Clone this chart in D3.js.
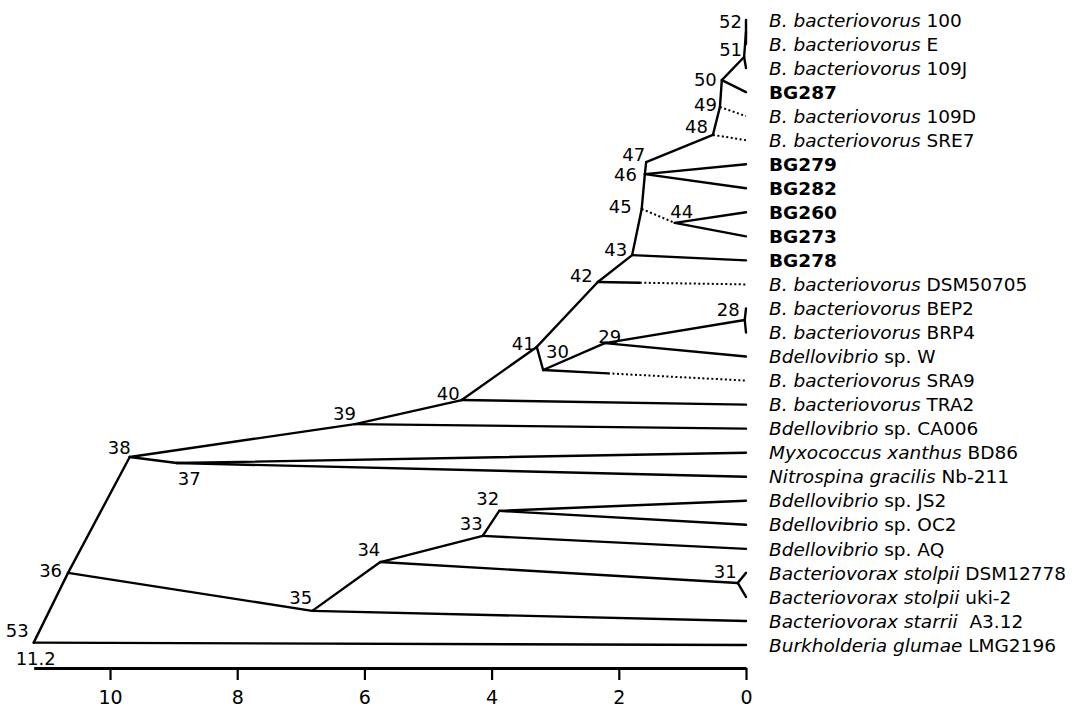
<!DOCTYPE html>
<html>
<head>
<meta charset="utf-8">
<script src="https://cdn.jsdelivr.net/npm/d3@7"></script>
<style>
  html, body { margin: 0; padding: 0; background: #fff; }
  svg { display: block; }
</style>
</head>
<body>
<svg id="chart" width="1075" height="707"></svg>
<script>
// ---------- DATA ----------
// Leaves (top to bottom): italic part, roman part (bold if no italic part)
const leafItalic = [
  "B. bacteriovorus", "B. bacteriovorus", "B. bacteriovorus", "", "B. bacteriovorus",
  "B. bacteriovorus", "", "", "", "", "", "B. bacteriovorus", "B. bacteriovorus",
  "B. bacteriovorus", "Bdellovibrio", "B. bacteriovorus", "B. bacteriovorus",
  "Bdellovibrio", "Myxococcus xanthus", "Nitrospina gracilis", "Bdellovibrio",
  "Bdellovibrio", "Bdellovibrio", "Bacteriovorax stolpii", "Bacteriovorax stolpii",
  "Bacteriovorax starrii", "Burkholderia glumae"
];
const leafRoman = [
  " 100", " E", " 109J", "BG287", " 109D", " SRE7", "BG279", "BG282", "BG260",
  "BG273", "BG278", " DSM50705", " BEP2", " BRP4", " sp. W", " SRA9", " TRA2",
  " sp. CA006", " BD86", " Nb-211", " sp. JS2", " sp. OC2", " sp. AQ",
  " DSM12778", " uki-2", "\u00a0 A3.12", " LMG2196"
];

// Internal nodes: id, distance (height), vertical position in row units
const nodeIds     = [52,   51,   50,   49,   48,   47,   46,   45,   44,   43,   42,    28,    29,    30,    41,    40,    39,    38,    37,    36,    35,    34,    33,    32,    31,    53];
const nodeHeights = [0.0,  0.03, 0.38, 0.41, 0.52, 1.57, 1.59, 1.64, 1.12, 1.79, 2.33,  0.02,  2.22,  3.19,  3.29,  4.47,  6.15,  9.69,  8.95,  10.66, 6.82,  5.75,  4.14,  3.88,  0.13,  11.2];
const nodeRows    = [0.5,  1.54, 2.5,  3.62, 4.78, 5.91, 6.41, 7.86, 8.44, 9.78, 10.9,  12.48, 13.44, 14.56, 13.6,  15.81, 16.81, 18.18, 18.43, 23.0,  24.58, 22.55, 21.46, 20.42, 23.42, 25.9];

// Branches: parent, child ("L#" = leaf index), distance where dotted part begins (null = solid)
const edgeParent = [52,52,51,51,50,50,49,49,48,48,47,46,46,46,45,45,44,44,43,43,42,42,41,28,28,29,29,30,30,41,40,40,39,39,38,37,37,38,32,32,33,33,31,31,34,34,35,35,36,36,53,53];
const edgeChild  = ["L0","L1",52,"L2",51,"L3",50,"L4",49,"L5",48,47,"L6","L7",46,44,"L8","L9",45,"L10",43,"L11",42,"L12","L13",28,"L14",29,"L15",30,41,"L16",40,"L17",39,"L18","L19",37,"L20","L21",32,"L22","L23","L24",31,33,34,"L25",35,38,36,"L26"];
const edgeDotFrom = [null,null,null,null,null,null,null,0.41,null,0.52,null,null,null,null,null,1.64,null,null,null,null,null,1.67,null,null,null,null,null,null,2.17,null,null,null,null,null,null,null,null,null,null,null,null,null,null,null,null,null,null,null,null,null,null,null];

const tickValues = [10, 8, 6, 4, 2, 0];
const rootLabel = "11.2";

// ---------- LAYOUT ----------
const svg = d3.select("#chart");
const x = d3.scaleLinear().domain([0, 11.2]).range([746, 33.7]);
const y = d3.scaleLinear().domain([0, 26]).range([20, 645]);
const axisY = 668;

// label placement for node numbers (anchor, dx, dy of text centre)
const labelPlace = {
  52:["end",-4,-10], 51:["end",-2,-7], 50:["end",-5,-1], 49:["end",-3,-2], 48:["end",-5,-8],
  47:["end",-1,-8], 46:["end",-8,0], 45:["end",-10,-2], 44:["middle",7,-11], 43:["end",-5,-6],
  42:["end",-5,-6], 28:["end",-5,-10], 29:["middle",5,-7], 30:["start",3,-18], 41:["end",-2,-3],
  40:["end",-2,-7], 39:["end",1,-11], 38:["end",1,-9], 37:["start",1,15], 36:["end",-6,-2],
  35:["end",0,-13], 34:["end",0,-13], 33:["end",0,-12], 32:["end",0,-12], 31:["end",-1,-11],
  53:["end",-5,-12]
};

const pos = {};
leafRoman.forEach((_, i) => { pos["L" + i] = { h: 0, r: i }; });
nodeIds.forEach((id, i) => { pos[id] = { h: nodeHeights[i], r: nodeRows[i] }; });

const g = svg.append("g");
const SW = 2.4;

edgeParent.forEach((p, i) => {
  const a = pos[p], b = pos[edgeChild[i]], d = edgeDotFrom[i];
  const x1 = x(a.h), y1 = y(a.r), x2 = x(b.h), y2 = y(b.r);
  if (d === null) {
    g.append("line").attr("x1", x1).attr("y1", y1).attr("x2", x2).attr("y2", y2)
      .attr("stroke", "#000").attr("stroke-width", SW).attr("stroke-linecap", "round");
  } else {
    const t = (a.h - d) / (a.h - b.h);
    const xm = x1 + (x2 - x1) * t, ym = y1 + (y2 - y1) * t;
    if (t > 0) {
      g.append("line").attr("x1", x1).attr("y1", y1).attr("x2", xm).attr("y2", ym)
        .attr("stroke", "#000").attr("stroke-width", SW).attr("stroke-linecap", "round");
    }
    g.append("line").attr("x1", xm).attr("y1", ym).attr("x2", x2).attr("y2", y2)
      .attr("stroke", "#000").attr("stroke-width", 2).attr("stroke-dasharray", "2,2.5");
  }
});

// node number labels
nodeIds.forEach((id, i) => {
  const pl = labelPlace[id];
  g.append("text")
    .attr("x", x(nodeHeights[i]) + pl[1])
    .attr("y", y(nodeRows[i]) + pl[2])
    .attr("dy", "0.36em")
    .attr("text-anchor", pl[0])
    .attr("font-family", "DejaVu Sans, sans-serif")
    .attr("font-size", 18)
    .attr("fill", "#000")
    .text(id);
});

// leaf labels
leafRoman.forEach((rom, i) => {
  const t = g.append("text")
    .attr("x", 769).attr("y", y(i)).attr("dy", "0.36em")
    .attr("font-family", "DejaVu Sans, sans-serif")
    .attr("font-size", 18.5).attr("fill", "#000");
  if (leafItalic[i]) {
    t.append("tspan").attr("font-style", "italic").text(leafItalic[i]);
    t.append("tspan").style("white-space", "pre").text(rom);
  } else {
    t.append("tspan").attr("font-weight", "bold").text(rom);
  }
});

// axis
const axis = d3.axisBottom(x).tickValues(tickValues).tickSize(12).tickSizeOuter(0).tickFormat(d3.format("d"));
const ag = svg.append("g").attr("transform", `translate(0,${axisY})`).call(axis);
ag.select(".domain").attr("stroke", "#000").attr("stroke-width", 2.8);
ag.selectAll(".tick line").attr("stroke", "#000").attr("stroke-width", 2.2);
ag.selectAll(".tick text").attr("y", 29).attr("dy", "0.36em")
  .attr("font-family", "DejaVu Sans, sans-serif").attr("font-size", 19).attr("fill", "#000");

svg.append("text")
  .attr("x", x(11.2) + 2).attr("y", axisY - 3)
  .attr("text-anchor", "middle")
  .attr("font-family", "DejaVu Sans, sans-serif").attr("font-size", 18)
  .text(rootLabel);
</script>
</body>
</html>
